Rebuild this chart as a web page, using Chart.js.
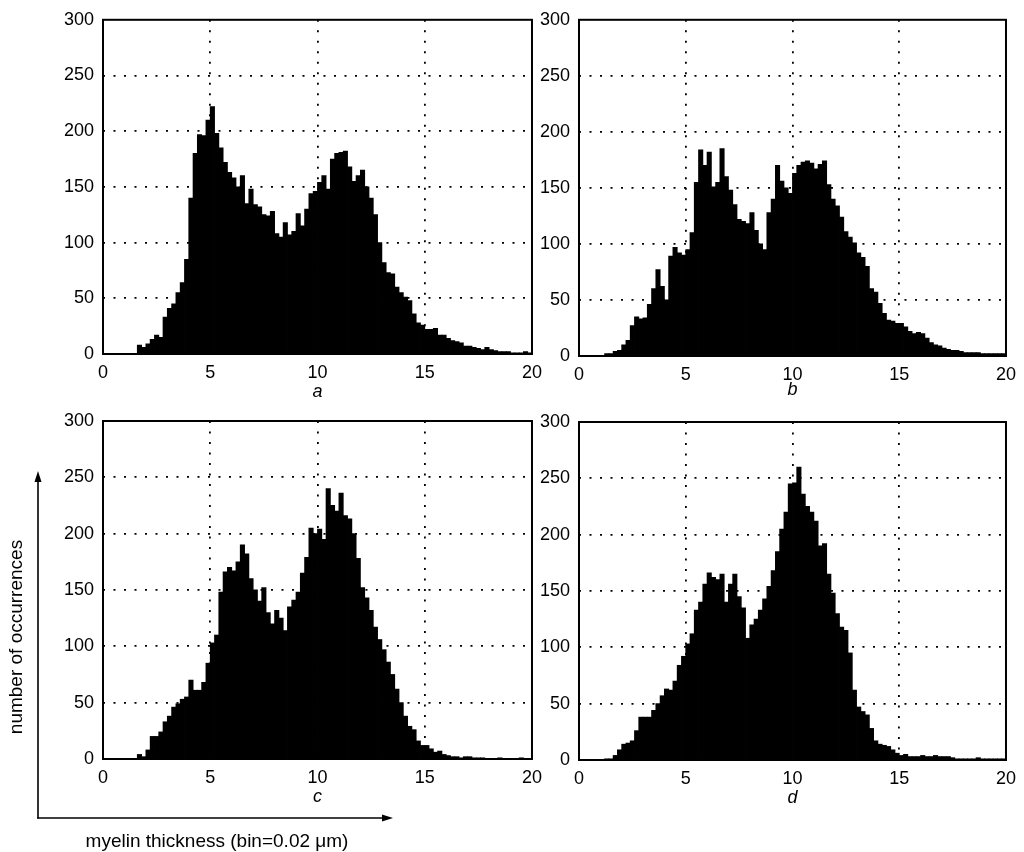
<!DOCTYPE html>
<html>
<head>
<meta charset="utf-8">
<script src="https://cdn.jsdelivr.net/npm/chart.js@4.4.1/dist/chart.umd.min.js"></script>
<style>
html,body{margin:0;padding:0;background:#fff;width:1024px;height:852px;overflow:hidden;}
.panel{position:absolute;}
.panel canvas{display:block;}
.note{position:absolute;font-family:"Liberation Sans",Arial,Helvetica,sans-serif;font-size:19px;color:#000;white-space:nowrap;line-height:1;}
</style>
</head>
<body>
<div class="panel" style="left:0px;top:0px;width:550px;height:410px"><canvas id="ca" width="550" height="410" style="width:550px;height:410px"></canvas></div>
<div class="panel" style="left:530px;top:0px;width:494px;height:410px"><canvas id="cb" width="494" height="410" style="width:494px;height:410px"></canvas></div>
<div class="panel" style="left:0px;top:400px;width:550px;height:420px"><canvas id="cc" width="550" height="420" style="width:550px;height:420px"></canvas></div>
<div class="panel" style="left:530px;top:400px;width:494px;height:420px"><canvas id="cd" width="494" height="420" style="width:494px;height:420px"></canvas></div>

<svg style="position:absolute;left:0;top:0" width="1024" height="852">
  <line x1="38" y1="818.5" x2="38" y2="480" stroke="#000" stroke-width="1.6"/>
  <polygon points="38,471 34.5,482 41.5,482" fill="#000"/>
  <line x1="37.2" y1="818" x2="384" y2="818" stroke="#000" stroke-width="1.6"/>
  <polygon points="393,818 382,814.5 382,821.5" fill="#000"/>
</svg>
<div class="note" id="ytitle" style="left:15px;top:637px;transform:translate(-50%,-50%) rotate(-90deg);"></div>
<div class="note" id="xtitle" style="left:217px;top:840px;transform:translate(-50%,-50%);"></div>

<script>
// ---- categories: bin centres (bin width 0.2 µm as drawn) ----
const binCenters = [
  0.1,0.3,0.5,0.7,0.9,1.1,1.3,1.5,1.7,1.9,
  2.1,2.3,2.5,2.7,2.9,3.1,3.3,3.5,3.7,3.9,
  4.1,4.3,4.5,4.7,4.9,5.1,5.3,5.5,5.7,5.9,
  6.1,6.3,6.5,6.7,6.9,7.1,7.3,7.5,7.7,7.9,
  8.1,8.3,8.5,8.7,8.9,9.1,9.3,9.5,9.7,9.9,
  10.1,10.3,10.5,10.7,10.9,11.1,11.3,11.5,11.7,11.9,
  12.1,12.3,12.5,12.7,12.9,13.1,13.3,13.5,13.7,13.9,
  14.1,14.3,14.5,14.7,14.9,15.1,15.3,15.5,15.7,15.9,
  16.1,16.3,16.5,16.7,16.9,17.1,17.3,17.5,17.7,17.9,
  18.1,18.3,18.5,18.7,18.9,19.1,19.3,19.5,19.7,19.9
];

// ---- series values (number of occurrences) ----
const countsA = [
  0,0,0,0,0,0,0,0,8,6,
  9,13,17,15,33,41,45,55,64,85,
  140,180,197,196,210,222,198,185,172,163,
  158,150,160,135,148,134,132,125,124,128,
  108,105,118,107,110,126,115,130,144,146,
  154,160,148,175,180,181,182,168,155,160,
  165,150,140,125,100,82,73,72,60,55,
  51,48,36,28,26,22,22,23,17,17,
  14,12,11,10,7,7,6,5,4,6,
  4,3,2,2,2,1,1,1,2,1
];
const countsB = [
  0,0,0,0,0,0,2,2,4,5,
  10,14,27,35,33,34,46,60,77,62,
  50,89,97,92,90,95,110,155,184,170,
  182,151,155,185,160,148,135,122,120,118,
  128,112,100,95,128,140,170,156,150,145,
  163,170,173,174,172,167,171,174,153,140,
  134,124,111,106,101,92,88,80,60,57,
  47,38,32,31,29,29,26,22,20,21,
  20,16,12,10,9,7,6,5,5,4,
  3,3,3,3,2,2,2,2,2,2
];
const countsC = [
  0,0,0,0,0,0,0,0,4,2,
  8,20,20,24,33,38,46,49,53,55,
  70,61,61,68,85,103,110,148,166,170,
  167,175,190,182,160,150,140,152,130,120,
  132,125,114,135,141,148,165,179,205,200,
  204,195,240,225,220,236,216,213,200,178,
  152,143,132,117,106,97,86,75,62,50,
  38,29,26,16,12,12,9,6,7,4,
  3,2,2,1,2,2,1,1,1,0,
  0,0,1,0,0,0,0,1,0,0
];
const countsD = [
  0,0,0,0,0,0,1,1,4,9,
  14,15,17,26,38,38,38,44,50,57,
  63,62,70,84,92,103,112,133,140,156,
  166,162,160,165,140,156,165,145,135,108,
  120,125,133,143,154,168,185,205,220,245,
  246,260,236,225,220,212,190,192,165,148,
  130,118,115,95,62,47,43,40,28,17,
  14,13,12,9,6,4,5,3,3,3,
  4,3,3,4,3,3,3,2,1,1,
  1,1,1,2,1,1,1,1,1,1
];

// ---- tick labels and texts ----
const xTickValues = [0,5,10,15,20];
const yTickValues = [0,50,100,150,200,250,300];
const panelLabels = ['a','b','c','d'];
const yAxisTitle = 'number of occurrences';
const xAxisTitle = 'myelin thickness (bin=0.02 \u03bcm)';

document.getElementById('ytitle').textContent = yAxisTitle;
document.getElementById('xtitle').textContent = xAxisTitle;

const FONT = '"Liberation Sans", Arial, Helvetica, sans-serif';

const framePlugin = {
  id: 'frame',
  afterDatasetsDraw(chart) {
    const {ctx, chartArea: a} = chart;
    ctx.save();
    ctx.strokeStyle = '#000';
    ctx.lineWidth = 2;
    ctx.strokeRect(a.left, a.top, a.right - a.left, a.bottom - a.top);
    ctx.restore();
  }
};

function makePanel(canvasId, counts, label, g) {
  const xMin = xTickValues[0], xMax = xTickValues[xTickValues.length - 1];
  const yMin = yTickValues[0], yMax = yTickValues[yTickValues.length - 1];
  return new Chart(document.getElementById(canvasId), {
    type: 'bar',
    data: {
      datasets: [{
        label: label,
        data: binCenters.map((x, i) => ({x: x, y: counts[i]})),
        backgroundColor: '#000',
        borderWidth: 0,
        barPercentage: 1,
        categoryPercentage: 1,
        inflateAmount: 0.4
      }]
    },
    options: {
      responsive: false,
      animation: false,
      devicePixelRatio: 1,
      layout: {padding: g.pad},
      plugins: {legend: {display: false}, tooltip: {enabled: false}},
      scales: {
        x: {
          type: 'linear', min: xMin, max: xMax, offset: false,
          afterBuildTicks: s => { s.ticks = xTickValues.map(v => ({value: v})); },
          afterFit: s => { s.height = g.xH; },
          grid: {
            offset: false, drawTicks: false, lineWidth: 1.8,
            color: c => (c.tick && (c.tick.value === xMin || c.tick.value === xMax)) ? 'rgba(0,0,0,0)' : '#000'
          },
          border: {display: false, dash: [2, 8.5]},
          ticks: {padding: 8, color: '#000', font: {family: FONT, size: 18}, maxRotation: 0, autoSkip: false},
          title: {display: true, text: label, color: '#000',
                  font: {family: FONT, size: 18, style: 'italic'},
                  padding: {top: 0, bottom: g.tp}}
        },
        y: {
          type: 'linear', min: yMin, max: yMax,
          afterBuildTicks: s => { s.ticks = yTickValues.map(v => ({value: v})); },
          afterFit: s => { s.width = g.yW; },
          grid: {
            drawTicks: false, lineWidth: 1.8,
            color: c => (c.tick && (c.tick.value === yMin || c.tick.value === yMax)) ? 'rgba(0,0,0,0)' : '#000'
          },
          border: {display: false, dash: [2, 8.5]},
          ticks: {padding: 9, color: '#000', font: {family: FONT, size: 18}, autoSkip: false}
        }
      }
    },
    plugins: [framePlugin]
  });
}

makePanel('ca', countsA, panelLabels[0], {pad: {left: 0, top: 19, right: 18, bottom: 0}, yW: 103, xH: 56, tp: 7});
makePanel('cb', countsB, panelLabels[1], {pad: {left: 0, top: 19, right: 15, bottom: 0}, yW: 49, xH: 54, tp: 9});
makePanel('cc', countsC, panelLabels[2], {pad: {left: 0, top: 21, right: 17, bottom: 0}, yW: 103, xH: 61, tp: 12});
makePanel('cd', countsD, panelLabels[3], {pad: {left: 0, top: 22, right: 15, bottom: 0}, yW: 49, xH: 60, tp: 11});
</script>
</body>
</html>
